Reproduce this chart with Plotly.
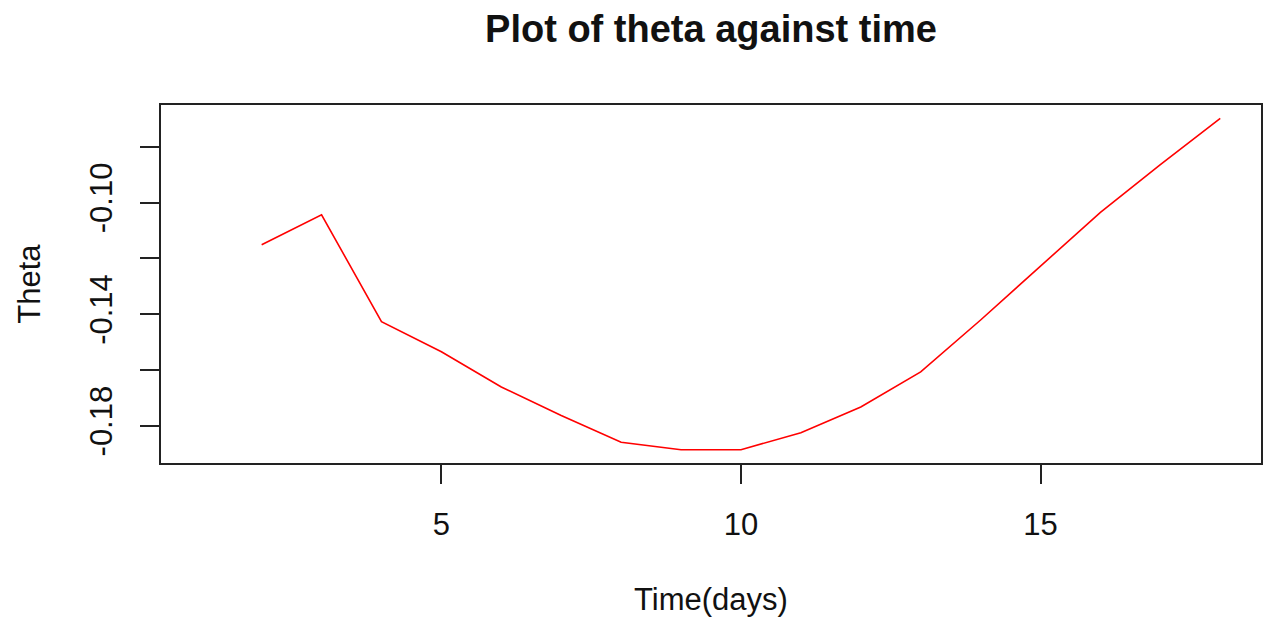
import plotly.graph_objects as go

# Data
time_days = [2, 3, 4, 5, 6, 7, 8, 9, 10, 11, 12, 13, 14, 15, 16, 17, 18]
theta = [-0.1151, -0.1044, -0.1427, -0.1535, -0.1661, -0.1763, -0.1859,
         -0.1886, -0.1886, -0.1825, -0.1733, -0.1607, -0.1421, -0.1229,
         -0.1035, -0.0864, -0.0698]

x_tick_vals = [5, 10, 15]
x_tick_text = ["5", "10", "15"]
y_tick_vals = [-0.18, -0.16, -0.14, -0.12, -0.10, -0.08]
y_tick_text = ["-0.18", "", "-0.14", "", "-0.10", ""]

title_text = "Plot of theta against time"
x_title = "Time(days)"
y_title = "Theta"

# R-style axis limits (4% padding); x domain starts at day 1
x_lo, x_hi = 1, 18
xpad = 0.04 * (x_hi - x_lo)
y_lo, y_hi = min(theta), max(theta)
ypad = 0.04 * (y_hi - y_lo)

FONT = "Liberation Sans, Arial, Helvetica, sans-serif"

fig = go.Figure()
fig.add_trace(go.Scatter(
    x=time_days, y=theta, mode="lines",
    line=dict(color="#ff0000", width=1.6),
    hoverinfo="x+y", showlegend=False,
))

axis_common = dict(
    showline=True, mirror=True, linecolor="#222222", linewidth=2,
    ticks="outside", ticklen=19, tickwidth=2, tickcolor="#222222",
    showgrid=False, zeroline=False,
    tickfont=dict(family=FONT, size=31, color="#111111"),
)

fig.update_layout(
    width=1265, height=624,
    margin=dict(l=161, r=2, t=105, b=161),
    paper_bgcolor="white", plot_bgcolor="white",
    title=dict(
        text=title_text, x=0.5, xref="paper", xanchor="center",
        y=1 - 28.5 / 624, yref="container", yanchor="middle",
        font=dict(family=FONT, size=38, color="#111111", weight="bold"),
    ),
    xaxis=dict(
        range=[x_lo - xpad, x_hi + xpad],
        tickvals=x_tick_vals, ticktext=x_tick_text,
        ticklabelstandoff=14,
        title=dict(text=x_title, standoff=47,
                   font=dict(family=FONT, size=31, color="#111111")),
        **axis_common,
    ),
    yaxis=dict(
        range=[y_lo - ypad, y_hi + ypad],
        tickvals=y_tick_vals, ticktext=y_tick_text,
        tickangle=-90, ticklabelstandoff=16,
        title=dict(text=y_title, standoff=34,
                   font=dict(family=FONT, size=31, color="#111111")),
        **axis_common,
    ),
)

fig.write_html("out.html")
